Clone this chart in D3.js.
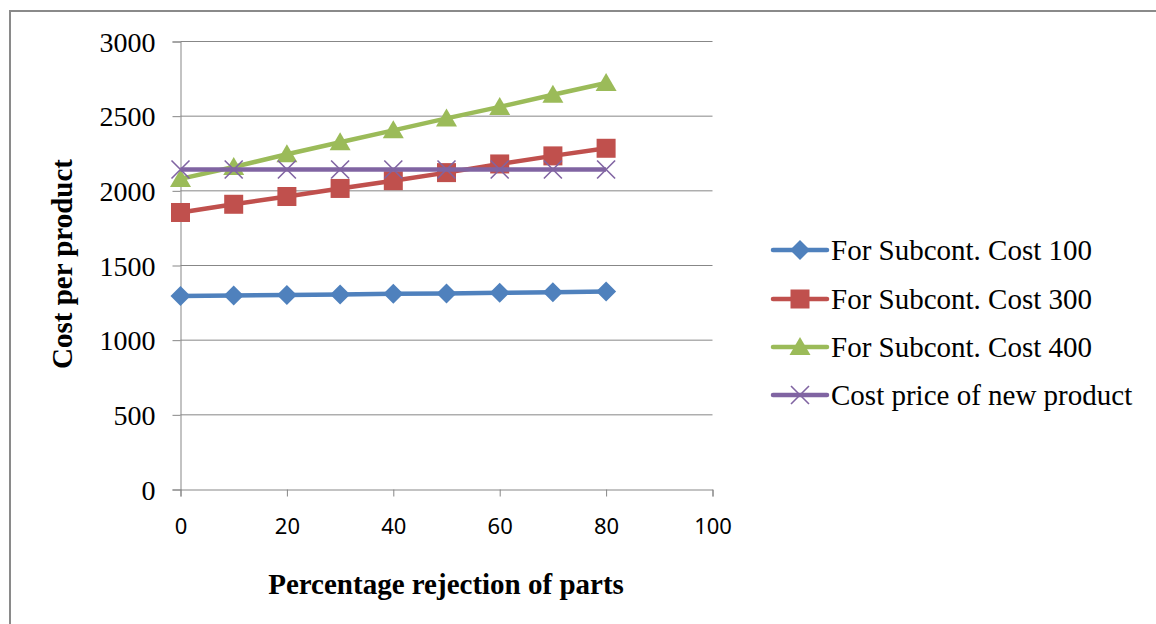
<!DOCTYPE html>
<html>
<head>
<meta charset="utf-8">
<script src="https://cdn.jsdelivr.net/npm/d3@7"></script>
<style>
  html, body { margin: 0; padding: 0; background: #fff; }
  svg { display: block; }
</style>
</head>
<body>
<svg id="chart" width="1156" height="624"></svg>
<script>
// Percentage rejection of parts
const rejection = [0, 10, 20, 30, 40, 50, 60, 70, 80];

// Cost per product for each subcontracting cost
const subcont100 = [1295, 1299, 1302, 1306, 1310, 1313, 1317, 1321, 1326];
const subcont300 = [1855, 1910, 1962, 2016, 2068, 2122, 2180, 2234, 2285];
const subcont400 = [2080, 2160, 2245, 2325, 2405, 2485, 2562, 2643, 2722];
const newProduct = [2143, 2143, 2143, 2143, 2143, 2143, 2143, 2143, 2143];

const seriesNames = [
  "For Subcont. Cost 100",
  "For Subcont. Cost 300",
  "For Subcont. Cost 400",
  "Cost price of new product"
];
const xTicks = [0, 20, 40, 60, 80, 100];
const yTicks = [0, 500, 1000, 1500, 2000, 2500, 3000];

const series = [
  { name: seriesNames[0], values: subcont100, color: "#4F81BD", marker: "diamond" },
  { name: seriesNames[1], values: subcont300, color: "#C0504D", marker: "square" },
  { name: seriesNames[2], values: subcont400, color: "#9BBB59", marker: "triangle" },
  { name: seriesNames[3], values: newProduct, color: "#8064A2", marker: "cross" }
];

const svg = d3.select("#chart");
const grid = "#878787";
const serif = "'Liberation Serif', 'Times New Roman', serif";
const sans = "'Noto Sans', 'Open Sans', sans-serif";

// frame around the chart area
svg.append("path")
  .attr("d", "M10,630V11H1160")
  .attr("fill", "none")
  .attr("stroke", "#8a8a8a")
  .attr("stroke-width", 2);

const x = d3.scaleLinear().domain([0, 100]).range([180.5, 712.5]);
const y = d3.scaleLinear().domain([0, 3000]).range([489.5, 41.5]);

// horizontal gridlines
svg.append("g")
  .selectAll("line")
  .data(yTicks.filter(d => d > 0))
  .join("line")
  .attr("x1", x(0)).attr("x2", x(100))
  .attr("y1", d => y(d)).attr("y2", d => y(d))
  .attr("stroke", grid).attr("stroke-width", 1);

// y axis
const yAxis = svg.append("g")
  .attr("transform", `translate(${x(0)},0)`)
  .call(d3.axisLeft(y).tickValues(yTicks).tickSize(8).tickPadding(17).tickFormat(d3.format("d")));
yAxis.select(".domain").attr("stroke", grid);
yAxis.selectAll(".tick line").attr("stroke", grid);
yAxis.selectAll(".tick text")
  .attr("fill", "#000")
  .style("font-family", serif)
  .style("font-size", "28px")
  .attr("dy", "0.34em");

// x axis
const xAxis = svg.append("g")
  .attr("transform", `translate(0,${y(0)})`)
  .call(d3.axisBottom(x).tickValues(xTicks).tickSize(7).tickPadding(22));
xAxis.select(".domain").attr("stroke", grid);
xAxis.selectAll(".tick line").attr("stroke", grid);
xAxis.selectAll(".tick text")
  .attr("fill", "#000")
  .style("font-family", sans)
  .style("font-size", "22px");

// axis titles
svg.append("text")
  .attr("transform", "translate(72,264) rotate(-90)")
  .attr("text-anchor", "middle")
  .style("font-family", serif)
  .style("font-size", "29px")
  .style("font-weight", "bold")
  .text("Cost per product");

svg.append("text")
  .attr("x", 446).attr("y", 594)
  .attr("text-anchor", "middle")
  .style("font-family", serif)
  .style("font-size", "29px")
  .style("font-weight", "bold")
  .text("Percentage rejection of parts");

// marker shapes
function drawMarker(g, type, color) {
  if (type === "diamond") {
    g.append("path").attr("d", "M0,-10L10,0L0,10L-10,0Z").attr("fill", color);
  } else if (type === "square") {
    g.append("rect").attr("x", -9.5).attr("y", -9.5).attr("width", 19).attr("height", 19).attr("fill", color);
  } else if (type === "triangle") {
    g.append("path").attr("d", "M0,-10L10.5,8L-10.5,8Z").attr("fill", color);
  } else {
    g.append("path").attr("d", "M-9,-9L9,9M-9,9L9,-9")
      .attr("stroke", color).attr("stroke-width", 1.6).attr("fill", "none");
  }
}

const line = d3.line().x((d, i) => x(rejection[i])).y(d => y(d));

series.forEach(s => {
  const g = svg.append("g");
  g.append("path")
    .attr("d", line(s.values))
    .attr("fill", "none")
    .attr("stroke", s.color)
    .attr("stroke-width", 4.5)
    .attr("stroke-linejoin", "round");
  s.values.forEach((v, i) => {
    const m = g.append("g").attr("transform", `translate(${x(rejection[i])},${y(v)})`);
    drawMarker(m, s.marker, s.color);
  });
});

// legend
const legend = svg.append("g");
const legendRows = [250, 299, 347, 395];
series.forEach((s, i) => {
  const row = legend.append("g").attr("transform", `translate(0,${legendRows[i]})`);
  row.append("line")
    .attr("x1", 773).attr("x2", 827)
    .attr("stroke", s.color).attr("stroke-width", 4.5).attr("stroke-linecap", "round");
  const m = row.append("g").attr("transform", "translate(800,0)");
  drawMarker(m, s.marker, s.color);
  row.append("text")
    .attr("x", 831).attr("y", 0).attr("dy", "0.34em")
    .style("font-family", serif)
    .style("font-size", "29px")
    .text(s.name);
});
</script>
</body>
</html>
